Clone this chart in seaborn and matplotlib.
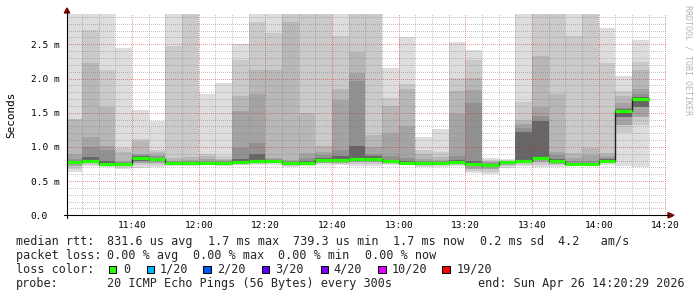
import numpy as np
import matplotlib
matplotlib.use("Agg")
import matplotlib.pyplot as plt
import seaborn as sns
from matplotlib.ticker import MultipleLocator, FixedLocator
from matplotlib.patches import Rectangle, Polygon
from matplotlib.lines import Line2D

# ---------------- data (milliseconds) ----------------
slots = ["11:20", "11:25", "11:30", "11:35", "11:40", "11:45", "11:50", "11:55",
         "12:00", "12:05", "12:10", "12:15", "12:20", "12:25", "12:30", "12:35",
         "12:40", "12:45", "12:50", "12:55", "13:00", "13:05", "13:10", "13:15",
         "13:20", "13:25", "13:30", "13:35", "13:40", "13:45", "13:50", "13:55",
         "14:00", "14:05", "14:10"]

rtt_max = [2.94, 2.94, 2.94, 2.45, 1.54, 1.38, 2.94, 2.94, 1.77, 1.93, 2.50, 2.94, 2.94, 2.94, 2.94, 2.94, 2.94, 2.94,
           2.94, 2.16, 2.61, 1.15, 1.26, 2.53, 2.42, 0.84, 0.83, 2.94, 2.94, 2.94, 2.94, 2.94, 2.74, 2.03, 2.56]
rtt_q95 = [1.41, 2.71, 2.13, 0.98, 1.12, 0.95, 2.48, 2.94, 0.90, 0.86, 2.27, 2.82, 2.66, 2.94, 2.94, 2.94, 2.62, 2.94,
           2.94, 1.71, 1.92, 0.96, 0.92, 2.01, 2.27, 0.81, 0.81, 1.66, 2.94, 2.94, 2.62, 2.94, 2.22, 1.81, 2.24]
rtt_q90 = [1.41, 2.22, 1.59, 0.92, 1.08, 0.92, 0.84, 0.85, 0.86, 0.83, 1.74, 2.12, 2.13, 2.82, 1.49, 1.01, 1.84, 2.39,
           1.17, 1.60, 1.85, 0.90, 0.85, 1.81, 2.01, 0.79, 0.80, 1.40, 2.33, 1.78, 0.91, 0.98, 0.91, 1.74, 2.13]
rtt_q85 = [0.90, 1.15, 1.02, 0.80, 0.90, 0.88, 0.80, 0.81, 0.82, 0.81, 1.53, 1.77, 0.84, 0.81, 0.91, 0.92, 1.68, 2.08,
           1.00, 1.20, 1.31, 0.83, 0.81, 1.48, 1.83, 0.78, 0.79, 1.33, 1.58, 0.93, 0.84, 0.88, 0.86, 1.64, 1.85]
rtt_q80 = [0.82, 1.00, 0.95, 0.78, 0.88, 0.86, 0.79, 0.80, 0.80, 0.79, 0.98, 1.05, 0.82, 0.79, 0.84, 0.88, 0.96, 1.97,
           0.90, 0.86, 0.84, 0.80, 0.79, 0.86, 1.64, 0.76, 0.79, 1.27, 1.45, 0.88, 0.79, 0.80, 0.84, 1.57, 1.78]
rtt_q70 = [0.80, 0.85, 0.80, 0.76, 0.86, 0.84, 0.78, 0.78, 0.78, 0.77, 0.83, 0.89, 0.80, 0.78, 0.80, 0.84, 0.86, 1.01,
           0.86, 0.81, 0.80, 0.78, 0.78, 0.81, 0.80, 0.75, 0.785, 1.22, 1.38, 0.82, 0.77, 0.77, 0.82, 1.55, 1.73]
median = [0.78, 0.80, 0.755, 0.745, 0.84, 0.82, 0.77, 0.77, 0.77, 0.76, 0.78, 0.80, 0.79, 0.765, 0.77, 0.81, 0.81, 0.83,
          0.83, 0.79, 0.77, 0.765, 0.77, 0.78, 0.745, 0.735, 0.775, 0.79, 0.84, 0.79, 0.755, 0.755, 0.80, 1.53, 1.70]
rtt_q30 = [0.75, 0.78, 0.745, 0.735, 0.80, 0.79, 0.76, 0.76, 0.76, 0.75, 0.77, 0.78, 0.78, 0.75, 0.76, 0.79, 0.79, 0.81,
           0.81, 0.77, 0.76, 0.75, 0.76, 0.77, 0.72, 0.71, 0.76, 0.78, 0.82, 0.77, 0.745, 0.745, 0.79, 1.44, 1.58]
rtt_q15 = [0.72, 0.76, 0.73, 0.72, 0.77, 0.77, 0.75, 0.75, 0.75, 0.74, 0.75, 0.76, 0.77, 0.74, 0.75, 0.77, 0.77, 0.78,
           0.78, 0.76, 0.75, 0.73, 0.74, 0.75, 0.68, 0.67, 0.74, 0.76, 0.78, 0.75, 0.735, 0.74, 0.77, 1.32, 1.44]
rtt_q05 = [0.68, 0.74, 0.72, 0.70, 0.74, 0.74, 0.74, 0.74, 0.74, 0.73, 0.74, 0.75, 0.76, 0.72, 0.74, 0.76, 0.75, 0.75,
           0.75, 0.75, 0.74, 0.72, 0.73, 0.74, 0.65, 0.64, 0.72, 0.74, 0.74, 0.73, 0.73, 0.73, 0.76, 1.20, 1.32]
rtt_min = [0.64, 0.72, 0.71, 0.67, 0.69, 0.71, 0.72, 0.72, 0.73, 0.72, 0.73, 0.74, 0.74, 0.70, 0.72, 0.74, 0.73, 0.72,
           0.72, 0.74, 0.73, 0.70, 0.71, 0.72, 0.62, 0.61, 0.69, 0.72, 0.70, 0.70, 0.72, 0.72, 0.74, 0.72, 0.71]

x_tick_labels = ["11:40", "12:00", "12:20", "12:40", "13:00", "13:20", "13:40", "14:00", "14:20"]
y_tick_values = [0.0, 0.5, 1.0, 1.5, 2.0, 2.5]
y_tick_labels = ["0.0", "0.5 m", "1.0 m", "1.5 m", "2.0 m", "2.5 m"]
range_start = "11:20:29"
range_end = "14:20:29"

loss_labels = ["0", "1/20", "2/20", "3/20", "4/20", "10/20", "19/20"]
loss_colors = ["#26ff00", "#00b8ff", "#0059ff", "#5e00ff", "#7e00ff", "#dd00ff", "#ff0000"]

stats_median = ["median rtt:", "831.6 us avg", "1.7 ms max", "739.3 us min", "1.7 ms now", "0.2 ms sd", "4.2   am/s"]
stats_loss = ["packet loss:", "0.00 % avg", "0.00 % max", "0.00 % min", "0.00 % now"]
probe_text = ["probe:", "20 ICMP Echo Pings (56 Bytes) every 300s", "end: Sun Apr 26 14:20:29 2026"]

# ---------------- helpers ----------------
def to_min(s):
    parts = [int(p) for p in s.split(":")]
    while len(parts) < 3:
        parts.append(0)
    return parts[0] * 60 + parts[1] + parts[2] / 60.0 - 11 * 60 - 20

step = 5.0
starts = np.array([to_min(s) for s in slots])

# ---------------- figure ----------------
sns.set_style("white")
plt.rcParams["font.family"] = ["DejaVu Sans Mono", "DejaVu Sans"]
W, H = 697, 297
fig = plt.figure(figsize=(W / 100, H / 100), dpi=100, facecolor="white")
px_l, px_r, px_t, px_b = 67, 667, 14, 215.3
ax = fig.add_axes([px_l / W, 1 - px_b / H, (px_r - px_l) / W, (px_b - px_t) / H])
ax.set_facecolor("white")

bands = [
    (rtt_min, rtt_max, "#dddddd"),
    (rtt_q05, rtt_q95, "#cacaca"),
    (rtt_q15, rtt_q90, "#b7b7b7"),
    (rtt_q15, rtt_q85, "#a4a4a4"),
    (rtt_q30, rtt_q80, "#919191"),
    (rtt_q30, rtt_q70, "#666666"),
]
for lo, hi, col in bands:
    lo = np.array(lo)
    hi = np.array(hi)
    ax.bar(starts, hi - lo, bottom=lo, width=step, align="edge", color=col,
           linewidth=0, antialiased=False, zorder=1)

# median step line (dark) and loss-coloured median segments
xs = np.append(starts, starts[-1] + step)
ys = np.append(median, median[-1])
sns.lineplot(x=xs, y=ys, drawstyle="steps-post", color="#202020", linewidth=1.0,
             ax=ax, zorder=2.6, sort=False, estimator=None)
ax.hlines(median, starts, starts + step, colors=loss_colors[0], linewidth=2.3, zorder=3)

ax.set_xlim(to_min(range_start), to_min(range_end))
ax.set_ylim(0, (px_b - px_t) / 68.4)

ax.xaxis.set_major_locator(FixedLocator([to_min(s) for s in x_tick_labels]))
ax.set_xticklabels(x_tick_labels)
ax.xaxis.set_minor_locator(MultipleLocator(5))
ax.set_yticks(y_tick_values)
ax.set_yticklabels(y_tick_labels)
ax.yaxis.set_minor_locator(MultipleLocator(0.1))

ax.set_axisbelow(False)
ax.grid(which="minor", color="#7a7a7a", alpha=0.42, linestyle=(0, (1, 2)), linewidth=0.72,
        antialiased=False)
ax.grid(which="major", color="#d02020", alpha=0.45, linestyle=(0, (1, 2)), linewidth=0.72,
        antialiased=False)

for s in ["top", "right", "left", "bottom"]:
    ax.spines[s].set_visible(False)

ax.tick_params(axis="both", which="major", direction="inout", length=2.5, width=0.72,
               color="black", labelsize=6.8, labelcolor="black")
ax.tick_params(axis="both", which="minor", direction="inout", length=1.5, width=0.72, color="black")
ax.tick_params(axis="y", which="major", pad=24.9)
ax.tick_params(axis="x", which="major", pad=2.9)
for lbl in ax.get_yticklabels():
    lbl.set_horizontalalignment("left")

def fx(x):
    return x / W

def fy(y):
    return 1 - y / H

# axis lines and arrows
fig.add_artist(Line2D([fx(64), fx(669)], [fy(215.3), fy(215.3)], color="black", lw=0.8))
fig.add_artist(Line2D([fx(67), fx(67)], [fy(218), fy(11)], color="black", lw=0.8))
fig.add_artist(Polygon([[fx(64.3), fy(13)], [fx(69.7), fy(13)], [fx(67), fy(8)]],
                       closed=True, color="#7f0000", transform=fig.transFigure))
fig.add_artist(Polygon([[fx(668), fy(212.6)], [fx(668), fy(218)], [fx(674), fy(215.3)]],
                       closed=True, color="#7f0000", transform=fig.transFigure))

# axis title & watermark
fig.text(fx(11), fy(114.5), "Seconds", rotation=90, ha="center", va="center", fontsize=7.9, color="black")
fig.text(fx(688), fy(60), "RRDTOOL / TOBI OETIKER", rotation=270, ha="center", va="center",
         fontsize=6.0, color="#b5b5b5")

# legend / statistics
fs = 8.5
med_x = [16, 106.7, 208.3, 293.3, 393.3, 480, 558.3]
for x, t in zip(med_x, stats_median):
    fig.text(fx(x), fy(244.7), t, fontsize=fs, va="baseline", ha="left")
loss_x = [16, 106.7, 193.3, 278.3, 365]
for x, t in zip(loss_x, stats_loss):
    fig.text(fx(x), fy(258.7), t, fontsize=fs, va="baseline", ha="left")

fig.text(fx(16), fy(272.7), "loss color:", fontsize=fs, va="baseline", ha="left")
box_x = [109, 146.7, 203.3, 261.7, 320.7, 378.3, 442.3]
lab_x = [123.3, 160, 216.7, 275, 333.3, 391.7, 456.7]
for bx, lx, lab, col in zip(box_x, lab_x, loss_labels, loss_colors):
    fig.add_artist(Rectangle((fx(bx), fy(273.3)), 7.3 / W, 7.8 / H, facecolor=col,
                             edgecolor="black", linewidth=0.75, transform=fig.transFigure))
    fig.text(fx(lx), fy(272.7), lab, fontsize=fs, va="baseline", ha="left")

probe_x = [16, 106.7, 478.3]
for x, t in zip(probe_x, probe_text):
    fig.text(fx(x), fy(286.5), t, fontsize=fs, va="baseline", ha="left")

fig.savefig("out.png", dpi=100, facecolor="white")
